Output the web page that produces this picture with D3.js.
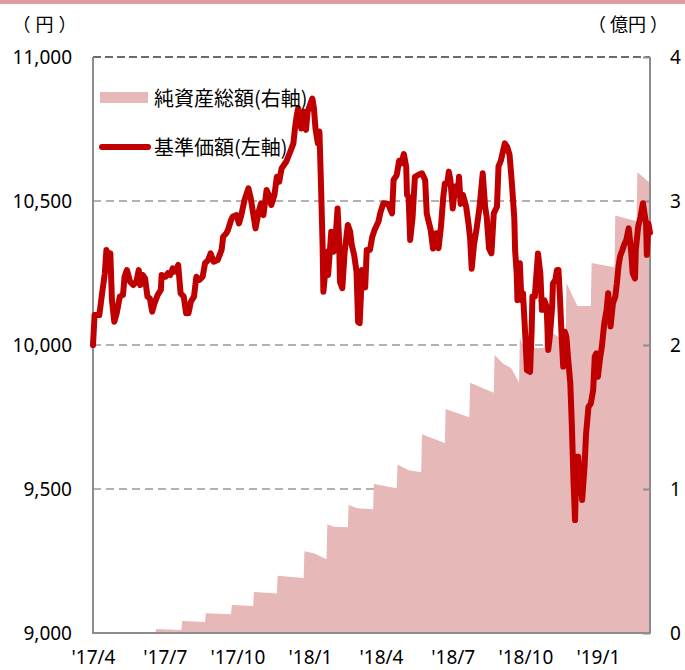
<!DOCTYPE html>
<html><head><meta charset="utf-8">
<script src="https://cdn.jsdelivr.net/npm/d3@7"></script>
<style>
html,body{margin:0;padding:0;background:#fff;}
svg{display:block;}
</style></head>
<body>
<svg id="chart" width="685" height="670"></svg>
<script>
// ---- data ----
const startDate = "2017-04-01";      // first day of the x range
const rangeDays = 706;               // days covered by the x range
const priceDays = [
  0,2,8,11,15,17,20,22,24,27,
  30,34,38,40,43,47,51,55,58,60,
  63,66,69,72,75,78,82,86,87,92,
  95,98,101,104,108,111,115,118,121,124,
  128,131,135,139,142,146,149,153,158,163,
  165,169,171,175,177,182,185,188,192,197,
  200,203,206,210,213,216,220,223,226,230,
  233,236,239,242,245,250,254,256,258,260,
  264,267,270,272,275,278,280,282,285,287,
  289,291,292,294,296,298,302,305,308,310,
  312,313,316,319,323,326,328,331,334,336,
  338,341,345,347,351,354,357,362,364,368,
  374,379,381,385,388,391,394,397,398,400,
  402,405,408,412,417,421,423,426,428,431,
  435,438,441,444,446,449,451,453,456,459,
  462,464,466,469,473,476,478,480,483,486,
  490,494,497,499,502,505,508,512,514,517,
  520,522,525,528,531,534,535,537,538,541,
  543,545,548,550,554,556,557,560,564,567,
  569,572,575,577,579,582,583,586,588,590,
  592,594,596,598,600,602,605,607,609,611,
  613,615,617,620,623,625,628,631,634,636,
  638,640,643,645,648,651,653,656,659,662,
  664,666,668,671,673,676,679,682,684,687,
  688,691,694,697,699,701,702,704,706
];
const priceValues = [
  10000,10104,10104,10168,10249,10330,10300,10318,10156,10081,
  10110,10168,10174,10237,10260,10220,10208,10220,10260,10208,
  10243,10231,10168,10162,10116,10145,10174,10191,10243,10237,
  10249,10243,10266,10255,10278,10180,10168,10110,10110,10150,
  10168,10237,10226,10237,10284,10295,10318,10289,10295,10330,
  10376,10388,10399,10434,10445,10451,10422,10451,10503,10544,
  10509,10457,10405,10463,10492,10451,10538,10521,10486,10521,
  10584,10567,10613,10625,10637,10671,10700,10752,10793,10822,
  10752,10810,10747,10810,10833,10856,10822,10752,10700,10741,
  10556,10347,10185,10243,10324,10243,10393,10324,10393,10474,
  10359,10220,10197,10324,10417,10393,10347,10313,10255,10080,
  10076,10260,10200,10330,10330,10376,10400,10430,10457,10492,
  10490,10457,10573,10590,10640,10631,10663,10619,10521,10515,
  10365,10440,10584,10590,10596,10573,10457,10422,10400,10335,
  10388,10336,10410,10515,10561,10561,10602,10573,10474,10550,
  10521,10584,10490,10521,10480,10420,10370,10265,10350,10400,
  10480,10596,10480,10445,10335,10318,10457,10480,10620,10640,
  10677,10700,10688,10660,10560,10440,10330,10250,10156,10284,
  10156,10180,10029,9913,9907,10052,10168,10168,10318,10249,
  10122,10156,10133,9983,10029,10133,10214,10226,10260,10260,
  10156,10029,9925,10046,10029,9960,9867,9716,9531,9392,
  9612,9612,9543,9462,9577,9693,9785,9797,9844,9960,
  9971,9890,9960,9994,10075,10122,10180,10064,10145,10168,
  10214,10272,10307,10330,10347,10365,10405,10330,10249,10231,
  10330,10411,10445,10492,10457,10422,10313,10422,10390
];
const navDays = [
  0,79, 80,112, 113,142, 143,175, 176,203, 204,233, 234,267,
  268,280,296, 297,305,323, 324,335,355, 356,385, 386,400,416,
  417,446, 447,477, 478,490,508, 509,520,530,540, 541,546,572,
  573,599, 600,614,631, 632,661, 662,689, 690,706
];
const navValues = [
  0,0, 0.028,0.021, 0.083,0.076, 0.137,0.130, 0.194,0.188, 0.285,0.275, 0.398,0.382,
  0.567,0.553,0.512, 0.755,0.738,0.734, 0.889,0.866,0.859, 1.035,1.005, 1.171,1.13,1.116,
  1.38,1.32, 1.556,1.498, 1.738,1.71,1.668, 1.93,1.87,1.84,1.74, 2.05,1.98,1.98,
  2.12,2.02, 2.43,2.27,2.27, 2.57,2.54, 2.90,2.86, 3.20,3.125
];
const xTickDates = ["2017-04-01","2017-07-01","2017-10-01","2018-01-01","2018-04-01","2018-07-01","2018-10-01","2019-01-01"];
const xTickLabels = ["'17/4","'17/7","'17/10","'18/1","'18/4","'18/7","'18/10","'19/1"];
const leftTicks = [9000, 9500, 10000, 10500, 11000];
const rightTicks = [0, 1, 2, 3, 4];
const legendLabels = ["純資産総額(右軸)", "基準価額(左軸)"];
const unitLeft = "（円）";
const unitRightParts = ["（", "億円", "）"];

// ---- layout ----
const W = 685, H = 670;
const m = {left: 93, right: 650, top: 57, bottom: 633};
const areaColor = "#e6b8b7", lineColor = "#c00000", axisColor = "#8c8c8c";
const numFont = "'Noto Sans', 'Liberation Sans', sans-serif";
const jpFont = "'Noto Sans CJK JP', 'Noto Sans', sans-serif";

const parse = d3.utcParse("%Y-%m-%d");
const t0 = parse(startDate);
const dayToDate = d => d3.utcDay.offset(t0, d);

const x = d3.scaleUtc().domain([t0, dayToDate(rangeDays)]).range([m.left, m.right]);
const yL = d3.scaleLinear().domain([9000, 11000]).range([m.bottom, m.top]);
const yR = d3.scaleLinear().domain([0, 4]).range([m.bottom, m.top]);

const svg = d3.select("#chart");

// top band
svg.append("rect").attr("x", 0).attr("y", 0).attr("width", W).attr("height", 4).attr("fill", "#df9c9c");

// gridlines (behind area)
svg.append("g").selectAll("line").data(leftTicks.filter(v => v > 9000 && v < 11000)).join("line")
  .attr("x1", m.left).attr("x2", m.right)
  .attr("y1", d => yL(d)).attr("y2", d => yL(d))
  .attr("stroke", "#999").attr("stroke-width", 1.5).attr("stroke-dasharray", "8,5");

// NAV area
const navData = navDays.map((d, i) => ({date: dayToDate(d), v: navValues[i]}));
svg.append("path").datum(navData)
  .attr("d", d3.area().x(d => x(d.date)).y0(yR(0)).y1(d => yR(d.v)))
  .attr("fill", areaColor);

// top gridline
svg.append("line").attr("x1", m.left).attr("x2", m.right)
  .attr("y1", yL(11000)).attr("y2", yL(11000))
  .attr("stroke", "#3a3a3a").attr("stroke-width", 1.5).attr("stroke-dasharray", "8,4");

// axes lines
const axG = svg.append("g").attr("stroke", axisColor).attr("stroke-width", 2);
axG.append("line").attr("x1", m.left).attr("x2", m.left).attr("y1", m.top).attr("y2", m.bottom + 1);
axG.append("line").attr("x1", m.right).attr("x2", m.right).attr("y1", m.top).attr("y2", m.bottom + 1);
axG.append("line").attr("x1", m.left - 1).attr("x2", m.right + 1).attr("y1", m.bottom).attr("y2", m.bottom);

// left axis
const gL = svg.append("g").attr("transform", `translate(${m.left},0)`)
  .call(d3.axisLeft(yL).tickValues(leftTicks).tickSize(0).tickPadding(21).tickFormat(d3.format(",")));
gL.select(".domain").remove();
gL.selectAll("text").attr("font-family", numFont).attr("font-size", 19).attr("fill", "#000");

// right axis
const gR = svg.append("g").attr("transform", `translate(${m.right},0)`)
  .call(d3.axisRight(yR).tickValues(rightTicks).tickSizeInner(-7).tickSizeOuter(0).tickPadding(20).tickFormat(d3.format("d")));
gR.select(".domain").remove();
gR.selectAll("line").attr("stroke", axisColor).attr("stroke-width", 2);
gR.selectAll("text").attr("font-family", numFont).attr("font-size", 19).attr("fill", "#000");

// bottom axis
const gB = svg.append("g").attr("transform", `translate(0,${m.bottom})`)
  .call(d3.axisBottom(x).tickValues(xTickDates.map(parse)).tickSize(0).tickPadding(18)
    .tickFormat((d, i) => xTickLabels[i]));
gB.select(".domain").remove();
gB.selectAll("text").attr("font-family", numFont).attr("font-size", 19).attr("fill", "#000");

// price line
const priceData = priceDays.map((d, i) => ({date: dayToDate(d), v: priceValues[i]}));
svg.append("path").datum(priceData)
  .attr("d", d3.line().x(d => x(d.date)).y(d => yL(d.v)))
  .attr("fill", "none").attr("stroke", lineColor).attr("stroke-width", 6)
  .attr("stroke-linejoin", "round").attr("stroke-linecap", "round");

// units
svg.append("text").attr("x", 47).attr("y", 23).attr("text-anchor", "middle").attr("dominant-baseline", "central")
  .attr("letter-spacing", 5)
  .attr("font-family", jpFont).attr("font-size", 18).text(unitLeft);
const ur = svg.append("text").attr("x", 628).attr("y", 23).attr("text-anchor", "middle").attr("dominant-baseline", "central")
  .attr("font-family", jpFont).attr("font-size", 18);
ur.append("tspan").attr("letter-spacing", 4).text(unitRightParts[0]);
ur.append("tspan").text(unitRightParts[1]);
ur.append("tspan").attr("dx", 4).text(unitRightParts[2]);

// legend
const lg = svg.append("g");
lg.append("rect").attr("x", 100).attr("y", 92).attr("width", 48).attr("height", 11).attr("fill", areaColor);
lg.append("line").attr("x1", 102).attr("x2", 148).attr("y1", 147).attr("y2", 147)
  .attr("stroke", lineColor).attr("stroke-width", 6).attr("stroke-linecap", "round");
lg.selectAll("text").data(legendLabels).join("text")
  .attr("x", 154).attr("y", (d, i) => 97 + i * 49)
  .attr("dominant-baseline", "central")
  .attr("font-family", jpFont).attr("font-size", 20).attr("fill", "#000")
  .text(d => d);
</script>
</body></html>
